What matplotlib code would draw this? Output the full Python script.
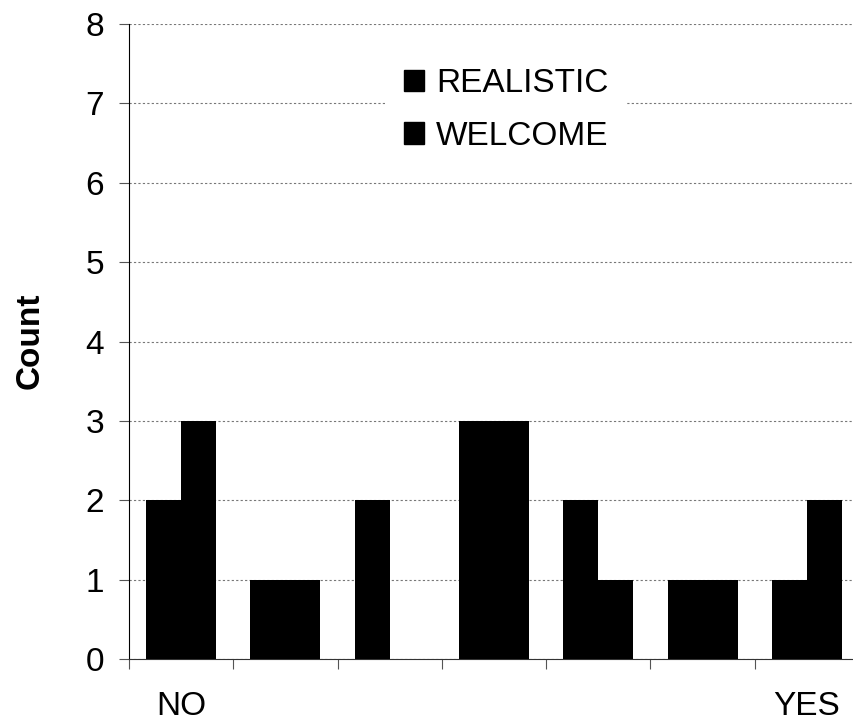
import numpy as np
import matplotlib
matplotlib.use("Agg")
import matplotlib.pyplot as plt
from matplotlib.patches import Rectangle

# datos del grafico
categorias = ["NO", "", "", "", "", "", "YES"]
realistic = [2, 1, 2, 3, 2, 1, 1]
welcome = [3, 1, 0, 3, 1, 1, 2]
series = ["REALISTIC", "WELCOME"]
y_ticks = [0, 1, 2, 3, 4, 5, 6, 7, 8]

plt.rcParams["font.family"] = ["Liberation Sans", "DejaVu Sans"]
FS = 24

fig = plt.figure(figsize=(8.54, 7.21), dpi=100)
ax = fig.add_axes([129 / 854, 1 - 659 / 721, 730 / 854, 635 / 721])

x = np.arange(len(categorias)) + 0.5
w = 0.336
ax.bar(x - w / 2, realistic, width=w, color="black", label=series[0], zorder=3)
ax.bar(x + w / 2, welcome, width=w, color="black", label=series[1], zorder=3)

ax.set_xlim(0, len(categorias))
ax.set_ylim(0, 8)
ax.set_yticks(y_ticks)
ax.set_yticklabels([str(v) for v in y_ticks], fontsize=FS)

# ticks en los bordes, etiquetas en el centro
ax.set_xticks(np.arange(len(categorias) + 1))
ax.set_xticklabels([])
ax.set_xticks(x, minor=True)
ax.set_xticklabels(categorias, minor=True, fontsize=FS)
ax.tick_params(axis="x", which="major", direction="out", length=7, color="#555555")
ax.tick_params(axis="x", which="minor", length=0, pad=23)
ax.tick_params(axis="y", direction="out", length=7, color="#555555", pad=11)

ax.yaxis.grid(True, linestyle=(0, (2, 2)), color="#777777", linewidth=0.8, zorder=0)
ax.set_axisbelow(True)

for s in ["top", "right"]:
    ax.spines[s].set_visible(False)
ax.spines["left"].set_color("black")
ax.spines["bottom"].set_color("#333333")

fig.text(30 / 854, 1 - 341 / 721, "Count", rotation=90, ha="center", va="center",
         fontsize=FS, fontweight="bold")

handles = [Rectangle((0, 0), 1, 1, color="black") for _ in series]
leg = ax.legend(handles, series, loc="center", bbox_to_anchor=(506 / 854, 1 - 110 / 721),
                bbox_transform=fig.transFigure, fontsize=FS, frameon=True,
                facecolor="white", edgecolor="none", framealpha=1, fancybox=False,
                handlelength=0.62, handleheight=0.62, handletextpad=0.35,
                labelspacing=0.65, borderpad=0.55)
leg.set_zorder(5)

fig.savefig("out.png", dpi=100)
